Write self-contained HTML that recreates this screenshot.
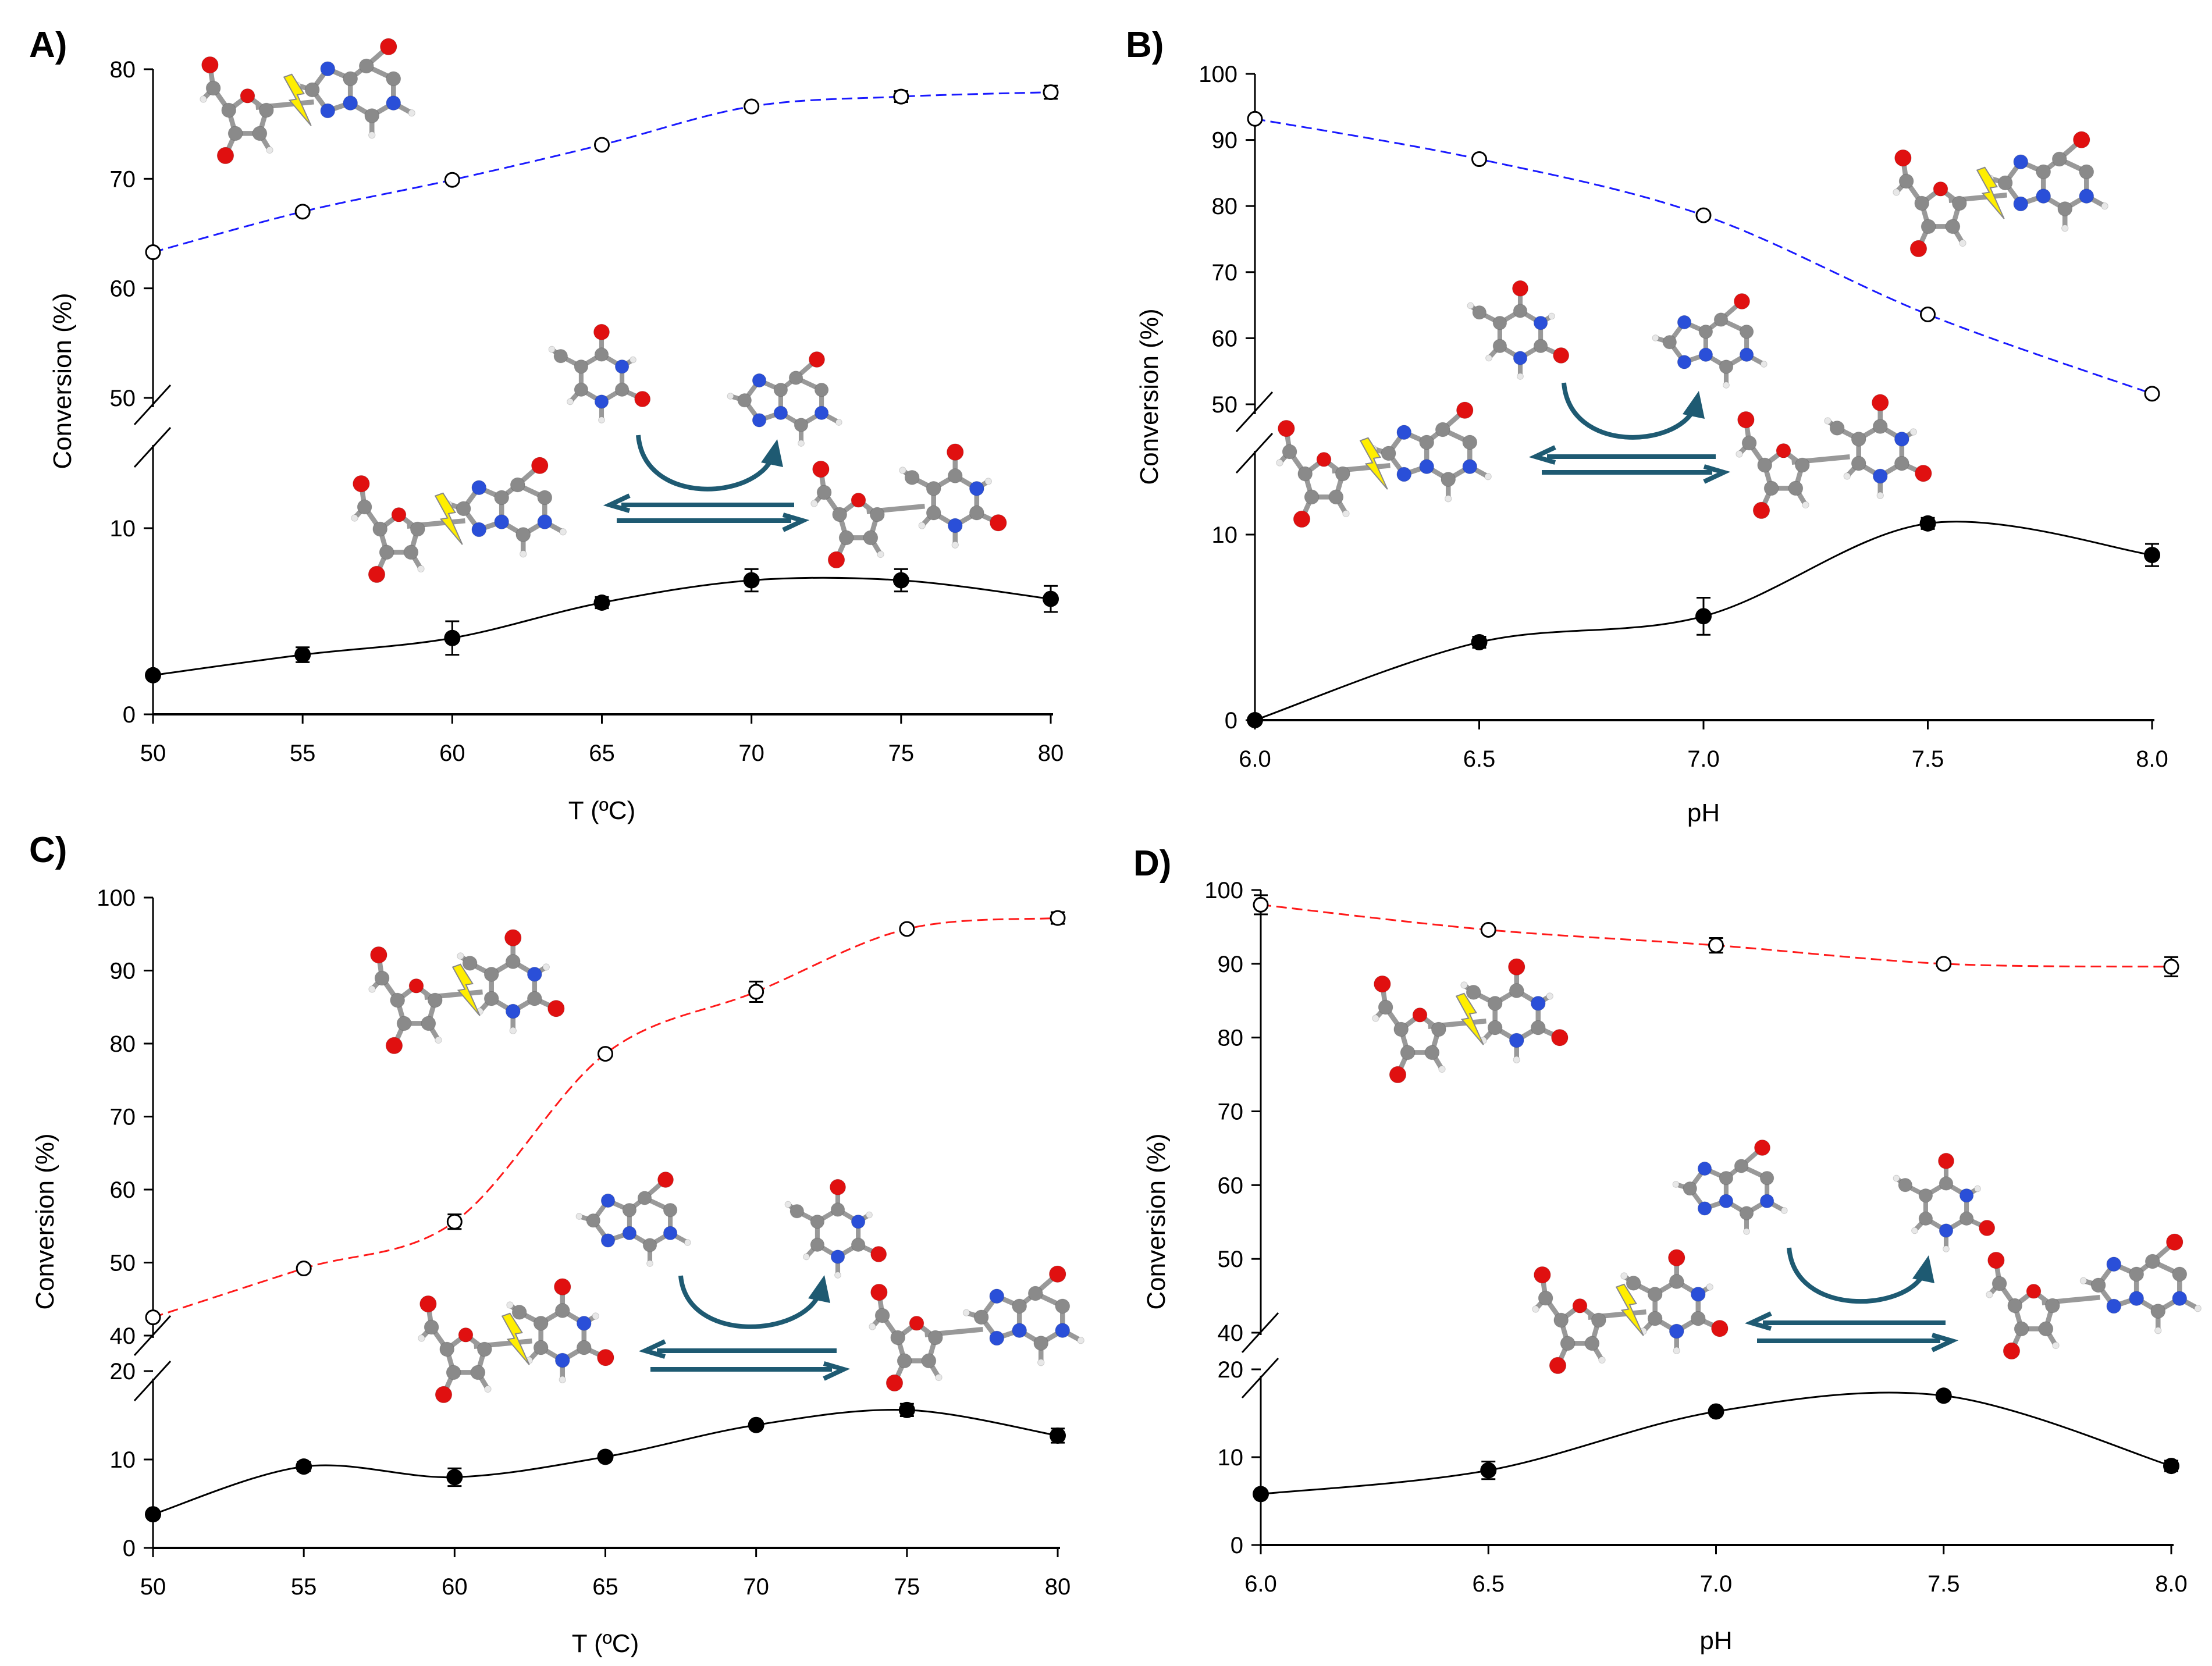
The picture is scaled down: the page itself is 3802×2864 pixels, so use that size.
<!DOCTYPE html>
<html><head><meta charset="utf-8">
<style>
html,body{margin:0;padding:0;background:#fff;}
svg{display:block;}
text{font-family:"Liberation Sans Narrow","Liberation Sans",sans-serif;}
.tick{font-size:40px;fill:#000;}
.title{font-family:"Liberation Sans",sans-serif;font-size:44px;fill:#000;}
.plab{font-family:"Liberation Sans",sans-serif;font-size:62px;font-weight:bold;fill:#000;}
</style></head>
<body>
<svg id="fig" width="3802" height="2864" viewBox="0 0 3802 2864" xmlns="http://www.w3.org/2000/svg"></svg>
<script>
// ---- Panel A data ----
const aX = [50,55,60,65,70,75,80];
const aUpper = [63.3,67.0,69.9,73.1,76.6,77.5,77.9];
const aUpperErr = [0.2,0.2,0.2,0.2,0.2,0.5,0.6];
const aLower = [2.1,3.2,4.1,6.0,7.2,7.2,6.2];
const aLowerErr = [0.1,0.4,0.9,0.3,0.6,0.6,0.7];
// ---- Panel B data ----
const bX = [6.0,6.5,7.0,7.5,8.0];
const bUpper = [93.2,87.1,78.6,63.6,51.6];
const bUpperErr = [0.5,0.4,0.4,0.4,0.4];
const bLower = [0,4.2,5.6,10.6,8.9];
const bLowerErr = [0.1,0.3,1.0,0.3,0.6];
// ---- Panel C data ----
const cX = [50,55,60,65,70,75,80];
const cUpper = [42.5,49.2,55.6,78.6,87.1,95.7,97.2];
const cUpperErr = [0.4,0.4,1.0,0.4,1.4,0.4,0.8];
const cLower = [3.8,9.2,8.0,10.3,13.9,15.6,12.7];
const cLowerErr = [0.2,0.5,1.0,0.2,0.3,0.7,0.8];
// ---- Panel D data ----
const dX = [6.0,6.5,7.0,7.5,8.0];
const dUpper = [98.0,94.6,92.5,90.0,89.6];
const dUpperErr = [1.3,0.4,1.0,0.3,1.3];
const dLower = [5.8,8.5,15.2,17.0,9.0];
const dLowerErr = [0.2,1.0,0.4,0.4,0.6];

const xTicksT = [50,55,60,65,70,75,80];
const xTicksPH = [6.0,6.5,7.0,7.5,8.0];

const NS = 'http://www.w3.org/2000/svg';
const svg = document.getElementById('fig');
function mk(tag, attrs, parent){
  const e = document.createElementNS(NS, tag);
  for (const k in attrs) e.setAttribute(k, attrs[k]);
  (parent||svg).appendChild(e);
  return e;
}
function spline(pts){
  let d = 'M'+pts[0][0]+','+pts[0][1];
  for (let i=0;i<pts.length-1;i++){
    const p0 = pts[Math.max(0,i-1)], p1 = pts[i], p2 = pts[i+1], p3 = pts[Math.min(pts.length-1,i+2)];
    const c1x = p1[0]+(p2[0]-p0[0])/6, c1y = p1[1]+(p2[1]-p0[1])/6;
    const c2x = p2[0]-(p3[0]-p1[0])/6, c2y = p2[1]-(p3[1]-p1[1])/6;
    d += ' C'+c1x+','+c1y+' '+c2x+','+c2y+' '+p2[0]+','+p2[1];
  }
  return d;
}

function panel(cfg){
  const g = mk('g', {});
  
  
  const sx = v => cfg.x0 + (v-cfg.xmin)/(cfg.xmax-cfg.xmin)*(cfg.x1-cfg.x0);
  const syU = v => cfg.uy0 + (v-cfg.uv0)/(cfg.uv1-cfg.uv0)*(cfg.uy1-cfg.uy0);
  const syL = v => cfg.ly0 + (v-cfg.lv0)/(cfg.lv1-cfg.lv0)*(cfg.ly1-cfg.ly0);
  const xa = mk('line', {x1:cfg.x0, y1:cfg.ly0, x2:cfg.x1+4, y2:cfg.ly0, stroke:'#000','stroke-width':4}, g);
  
  
  const ua = mk('line', {x1:cfg.x0, y1:syU(cfg.uTicks[cfg.uTicks.length-1]), x2:cfg.x0, y2:cfg.uAxisEnd, stroke:'#000','stroke-width':3}, g);
  
  
  const la = mk('line', {x1:cfg.x0, y1:cfg.lAxisStart, x2:cfg.x0, y2:cfg.ly0, stroke:'#000','stroke-width':3}, g);
  
  
  [cfg.uAxisEnd, cfg.lAxisStart].forEach((yy,i)=>{
    const b = mk('line', {x1:cfg.x0-32, y1:yy+(i?38:30), x2:cfg.x0+30, y2:yy-(i?30:38), stroke:'#000','stroke-width':3}, g);
    
    
  });
  cfg.xTicks.forEach(v=>{
    mk('line', {x1:sx(v), y1:cfg.ly0, x2:sx(v), y2:cfg.ly0+16, stroke:'#000','stroke-width':3}, g);
    const t = mk('text', {x:sx(v), y:cfg.ly0+80, 'text-anchor':'middle', class:'tick'}, g);
    t.textContent = cfg.xFmt(v);
    
    
  });
  cfg.uTicks.forEach(v=>{
    mk('line', {x1:cfg.x0-16, y1:syU(v), x2:cfg.x0, y2:syU(v), stroke:'#000','stroke-width':3}, g);
    const t = mk('text', {x:cfg.x0-30, y:syU(v)+14, 'text-anchor':'end', class:'tick'}, g);
    t.textContent = v;
    
    
  });
  cfg.lTicks.forEach(v=>{
    mk('line', {x1:cfg.x0-16, y1:syL(v), x2:cfg.x0, y2:syL(v), stroke:'#000','stroke-width':3}, g);
    const t = mk('text', {x:cfg.x0-30, y:syL(v)+14, 'text-anchor':'end', class:'tick'}, g);
    t.textContent = v;
    
    
  });
  const xt = mk('text', {x:(cfg.x0+cfg.x1)/2, y:cfg.xTitleY, 'text-anchor':'middle', class:'title'}, g);
  xt.textContent = cfg.xTitle;
  
  
  const yt = mk('text', {x:0, y:0, 'text-anchor':'middle', class:'title', transform:'translate('+cfg.yTitleX+','+cfg.yTitleY+') rotate(-90)'}, g);
  yt.textContent = 'Conversion (%)';
  
  
  const pl = mk('text', {x:cfg.labX, y:cfg.labY, class:'plab'}, g);
  pl.textContent = cfg.id.toUpperCase()+')';
  
  
  cfg.decor(g);
  const up = cfg.xs.map((x,i)=>[sx(x), syU(cfg.upper[i])]);
  const lo = cfg.xs.map((x,i)=>[sx(x), syL(cfg.lower[i])]);
  const uc = mk('path', {d:spline(up), fill:'none', stroke:cfg.upColor, 'stroke-width':3, 'stroke-dasharray':'18 9'}, g);
  
  
  const lc = mk('path', {d:spline(lo), fill:'none', stroke:'#000', 'stroke-width':3}, g);
  
  
  cfg.xs.forEach((x,i)=>{
    const X = sx(x);
    const e1 = syU(cfg.upper[i]+cfg.upperErr[i]), e2 = syU(cfg.upper[i]-cfg.upperErr[i]);
    mk('path', {d:'M'+X+','+e1+'V'+e2+'M'+(X-12)+','+e1+'h24M'+(X-12)+','+e2+'h24', stroke:'#000','stroke-width':3, fill:'none'}, g);
    const p = mk('circle', {cx:X, cy:syU(cfg.upper[i]), r:12, fill:'#fff', stroke:'#000','stroke-width':3}, g);
    
    
    const f1 = syL(cfg.lower[i]+cfg.lowerErr[i]), f2 = syL(cfg.lower[i]-cfg.lowerErr[i]);
    mk('path', {d:'M'+X+','+f1+'V'+f2+'M'+(X-12)+','+f1+'h24M'+(X-12)+','+f2+'h24', stroke:'#000','stroke-width':3, fill:'none'}, g);
    const q = mk('circle', {cx:X, cy:syL(cfg.lower[i]), r:14, fill:'#000'}, g);
    
    
  });
}

const GR='#8a8a8a', RD='#e01010', BL='#2a4fd8', WH='#e8e8e8';
function atoms(g, list, bonds, ox, oy, s){
  bonds.forEach(b=>{
    mk('line', {x1:ox+list[b[0]][0]*s, y1:oy+list[b[0]][1]*s, x2:ox+list[b[1]][0]*s, y2:oy+list[b[1]][1]*s, stroke:'#999','stroke-width':9*s}, g);
  });
  list.forEach(a=>{
    mk('circle', {cx:ox+a[0]*s, cy:oy+a[1]*s, r:(a[3]||13)*s, fill:a[2], stroke:'rgba(0,0,0,0.15)','stroke-width':1}, g);
  });
}
function purine(g, ox, oy, s){
  const L = [[-10,-45,GR],[39,-22,GR],[39,22,BL],[0,45,GR],[-39,22,BL],[-39,-22,GR],
    [-80,-40,BL],[-108,-2,GR],[-80,36,BL],[30,-80,RD,15],[72,40,WH,6],[0,80,WH,6],[-135,-10,WH,6]];
  const B = [[0,1],[1,2],[2,3],[3,4],[4,5],[5,0],[5,6],[6,7],[7,8],[8,4],[0,9],[2,10],[3,11],[7,12]];
  atoms(g, L, B, ox, oy, s);
}
function pyrimidine(g, ox, oy, s){
  const L = [[0,-45,GR],[39,-22,BL],[39,22,GR],[0,45,BL],[-39,22,GR],[-39,-22,GR],
    [0,-88,RD,15],[78,40,RD,15],[-78,-42,GR],[-95,-55,WH,6],[60,-35,WH,6],[0,80,WH,6],[-60,45,WH,6]];
  const B = [[0,1],[1,2],[2,3],[3,4],[4,5],[5,0],[0,6],[2,7],[5,8],[8,9],[1,10],[3,11],[4,12]];
  atoms(g, L, B, ox, oy, s);
}
function sugar(g, ox, oy, s){
  const L = [[0,-36,RD,13],[34,-10,GR],[22,32,GR],[-22,32,GR],[-34,-10,GR],
    [-62,-50,GR],[-68,-92,RD,15],[-40,72,RD,15],[40,62,WH,6],[-80,-30,WH,6]];
  const B = [[0,1],[1,2],[2,3],[3,4],[4,0],[4,5],[5,6],[3,7],[2,8],[5,9]];
  atoms(g, L, B, ox, oy, s);
}
function bolt(g, x, y, s){
  const b = mk('polygon', {points:[[0,-45],[22,-10],[10,-8],[35,48],[-4,2],[8,0],[-14,-40]].map(p=>(x+p[0]*s)+','+(y+p[1]*s)).join(' '), fill:'#ffee00', stroke:'#888', 'stroke-width':2}, g);
  
  
}
function nucleoside(g, cx, cy, s, base, withBolt){
  const m = mk('g', {}, g);
  
  
  mk('line', {x1:cx-95*s, y1:cy+5*s, x2:cx+10*s, y2:cy-5*s, stroke:'#999','stroke-width':9*s}, m);
  sugar(m, cx-110*s, cy+20*s, s);
  if (base==='purine') purine(m, cx+115*s, cy-25*s, s); else pyrimidine(m, cx+65*s, cy-15*s, s);
  if (withBolt) bolt(m, cx-30*s, cy-10*s, s);
}
function base(g, cx, cy, s, kind){
  const m = mk('g', {}, g);
  
  
  if (kind==='purine') purine(m, cx+30*s, cy, s); else pyrimidine(m, cx, cy, s);
}
function reactionArrows(g, c){
  const col = '#1e5a72';
  const a = mk('g', {}, g);
  
  
  mk('path', {d:'M'+c.cs[0]+','+c.cs[1]+' C'+(c.cs[0]+10)+','+(c.cb+40)+' '+(c.ce[0]-30)+','+(c.cb+30)+' '+c.ce[0]+','+c.ce[1], fill:'none', stroke:col, 'stroke-width':8}, a);
  mk('polygon', {points:(c.ce[0]-20)+','+(c.ce[1]+10)+' '+(c.ce[0]+8)+','+(c.ce[1]-30)+' '+(c.ce[0]+18)+','+(c.ce[1]+18), fill:col}, a);
  mk('line', {x1:c.t[0]+20, y1:c.t[2], x2:c.t[1], y2:c.t[2], stroke:col,'stroke-width':8}, a);
  mk('polyline', {points:(c.t[0]+34)+','+(c.t[2]-16)+' '+c.t[0]+','+c.t[2]+' '+(c.t[0]+34)+','+(c.t[2]+10), fill:'none', stroke:col,'stroke-width':8}, a);
  mk('line', {x1:c.b[0], y1:c.b[2], x2:c.b[1]-20, y2:c.b[2], stroke:col,'stroke-width':8}, a);
  mk('polyline', {points:(c.b[1]-34)+','+(c.b[2]-10)+' '+c.b[1]+','+c.b[2]+' '+(c.b[1]-34)+','+(c.b[2]+16), fill:'none', stroke:col,'stroke-width':8}, a);
}

panel({id:'a', xs:aX, upper:aUpper, upperErr:aUpperErr, lower:aLower, lowerErr:aLowerErr,
  x0:263, x1:1806, xmin:50, xmax:80, xTicks:xTicksT, xFmt:v=>v,
  uy0:684, uv0:50, uy1:119, uv1:80, uTicks:[50,60,70,80], uAxisEnd:700,
  ly0:1228, lv0:0, ly1:908, lv1:10, lTicks:[0,10], lAxisStart:765,
  upColor:'#1a1aff', xTitle:'T (ºC)', xTitleY:1408, yTitleX:122, yTitleY:655, labX:50, labY:98,
  decor:g=>{
    nucleoside(g, 530, 180, 0.95, 'purine', true);
    base(g, 1034, 650, 0.9, 'pyr'); base(g, 1350, 690, 0.9, 'purine');
    nucleoside(g, 790, 900, 0.95, 'purine', true);
    nucleoside(g, 1580, 875, 0.95, 'pyr', false);
    reactionArrows(g, {cs:[1097,748], ce:[1328,785], cb:830, t:[1048,1365,868], b:[1060,1380,895]});
  }});
panel({id:'b', xs:bX, upper:bUpper, upperErr:bUpperErr, lower:bLower, lowerErr:bLowerErr,
  x0:2157, x1:3699, xmin:6, xmax:8, xTicks:xTicksPH, xFmt:v=>v.toFixed(1),
  uy0:695, uv0:50, uy1:127, uv1:100, uTicks:[50,60,70,80,90,100], uAxisEnd:712,
  ly0:1238, lv0:0, ly1:919, lv1:10, lTicks:[0,10], lAxisStart:775,
  upColor:'#1a1aff', xTitle:'pH', xTitleY:1412, yTitleX:1990, yTitleY:682, labX:1935, labY:98,
  decor:g=>{
    nucleoside(g, 3440, 340, 0.95, 'purine', true);
    base(g, 2613, 575, 0.9, 'pyr'); base(g, 2940, 590, 0.9, 'purine');
    nucleoside(g, 2380, 805, 0.95, 'purine', true);
    nucleoside(g, 3170, 790, 0.95, 'pyr', false);
    reactionArrows(g, {cs:[2688,658], ce:[2912,702], cb:740, t:[2639,2949,785], b:[2650,2963,812]});
  }});
panel({id:'c', xs:cX, upper:cUpper, upperErr:cUpperErr, lower:cLower, lowerErr:cLowerErr,
  x0:263, x1:1818, xmin:50, xmax:80, xTicks:xTicksT, xFmt:v=>v,
  uy0:2296, uv0:40, uy1:1543, uv1:100, uTicks:[40,50,60,70,80,90,100], uAxisEnd:2300,
  ly0:2661, lv0:0, ly1:2357, lv1:20, lTicks:[0,10,20], lAxisStart:2370,
  upColor:'#ff1a1a', xTitle:'T (ºC)', xTitleY:2840, yTitleX:92, yTitleY:2100, labX:50, labY:1482,
  decor:g=>{
    nucleoside(g, 820, 1710, 0.95, 'pyr', true);
    base(g, 1090, 2100, 0.9, 'purine'); base(g, 1440, 2120, 0.9, 'pyr');
    nucleoside(g, 905, 2310, 0.95, 'pyr', true);
    nucleoside(g, 1680, 2290, 0.95, 'purine', false);
    reactionArrows(g, {cs:[1170,2193], ce:[1409,2222], cb:2270, t:[1109,1438,2322], b:[1118,1450,2354]});
  }});
panel({id:'d', xs:dX, upper:dUpper, upperErr:dUpperErr, lower:dLower, lowerErr:dLowerErr,
  x0:2167, x1:3732, xmin:6, xmax:8, xTicks:xTicksPH, xFmt:v=>v.toFixed(1),
  uy0:2291, uv0:40, uy1:1530, uv1:100, uTicks:[40,50,60,70,80,90,100], uAxisEnd:2295,
  ly0:2656, lv0:0, ly1:2354, lv1:20, lTicks:[0,10,20], lAxisStart:2365,
  upColor:'#ff1a1a', xTitle:'pH', xTitleY:2835, yTitleX:2002, yTitleY:2100, labX:1948, labY:1505,
  decor:g=>{
    nucleoside(g, 2545, 1760, 0.95, 'pyr', true);
    base(g, 2975, 2045, 0.9, 'purine'); base(g, 3345, 2075, 0.9, 'pyr');
    nucleoside(g, 2820, 2260, 0.95, 'pyr', true);
    nucleoside(g, 3600, 2235, 0.95, 'purine', false);
    reactionArrows(g, {cs:[3075,2145], ce:[3307,2188], cb:2225, t:[3010,3344,2274], b:[3020,3355,2305]});
  }});
</script>
</body></html>
